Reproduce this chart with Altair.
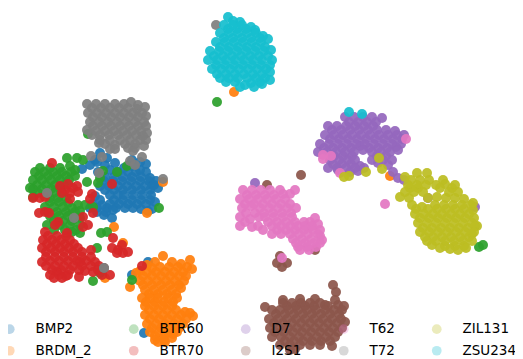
import altair as alt
import pandas as pd

CLASSES = ["BMP2", "BRDM_2", "BTR60", "BTR70", "D7", "I2S1", "T62", "T72", "ZIL131", "ZSU234"]
COLORS = ["#1f77b4", "#ff7f0e", "#2ca02c", "#d62728", "#9467bd", "#8c564b", "#e377c2", "#7f7f7f", "#bcbd22", "#17becf"]

BMP2 = [(110,170),(118,172),(128,172),(136,172),(146,172),(104,181),(113,181),(122,181),(131,181),(140,181),(149,181),
        (156,181),(105,190),(114,190),(123,190),(132,190),(141,190),(150,190),(158,188),(100,200),(114,200),(123,200),
        (132,200),(141,200),(150,200),(97,208),(107,208),(116,208),(133,208),(141,209),(104,215),(95,160),(105,165),
        (98,172),(132,160),(146,164),(152,185),
        (100,153),(97,162),(107,158),(115,163),(124,168),(132,166),(140,162),(90,165),(82,169),(140,170),
        (105,177),(114,177),(123,177),(132,177),(141,177),(150,178),(100,186),(109,186),(118,186),(127,186),
        (136,186),(145,186),(154,185),(95,196),(110,195),(118,195),(124,195),(133,195),(142,195),(151,195),
        (92,204),(102,205),(110,204),(119,204),(128,204),(137,204),(146,204),(155,202),(97,212),(106,212),
        (113,210),(125,208),(148,211),(152,209),(112,218),(90,208),(144,333),(132,275),(148,262)]
BRDM_2 = [(160,267),(169,267),(178,267),(187,267),(152,268),(143,276),(152,276),(161,276),(170,276),(179,276),(186,276),
          (143,285),(152,285),(161,285),(170,285),(179,285),(149,294),(158,294),(167,294),(176,294),(146,302),(155,302),
          (164,302),(173,302),(149,310),(158,310),(167,310),(176,310),(185,312),(150,319),(159,319),(168,319),(177,319),
          (186,319),(193,316),(152,328),(161,328),(170,328),(179,328),(155,336),(164,336),(173,334),(158,342),(165,342),
          (163,256),(155,262),(172,262),(181,264),(190,260),(192,269),(147,265),(140,271),(136,273),
          (147,272),(156,272),(165,272),(174,272),(183,272),(148,281),(157,281),(166,281),(175,281),(184,281),
          (140,281),(145,290),(154,290),(163,290),(172,290),(181,288),(142,298),(150,298),(158,298),(168,298),
          (177,298),(145,306),(154,306),(163,306),(172,306),(145,315),(154,315),(163,315),(172,315),(181,315),
          (190,313),(147,324),(156,324),(165,324),(174,324),(183,324),(150,332),(159,332),(168,332),(177,332),
          (155,340),(164,340),(172,338),(130,287),(114,227),(123,243),(163,182),(147,213),(105,278),(234,92),(390,176)]
BTR60 = [(39,176),(48,176),(57,176),(66,176),(37,185),(46,185),(55,185),(64,185),(75,176),(38,193),(47,193),(54,193),
         (62,193),(50,202),(59,202),(68,203),(48,212),(57,212),(66,212),(75,212),(54,221),(63,221),(72,221),(80,218),
         (54,230),(65,230),(76,230),(40,168),(50,168),(60,168),(70,166),(100,178),(85,205),(78,205),(72,208),
         (67,158),(77,158),(83,160),(75,170),(35,172),(44,172),(53,172),(62,172),(71,172),(33,180),(42,180),
         (51,180),(60,180),(69,180),(87,182),(33,189),(42,189),(51,189),(60,189),(30,188),(33,197),(50,198),
         (58,198),(66,198),(45,207),(54,207),(63,207),(50,216),(59,216),(68,216),(80,211),(47,225),(60,225),
         (70,225),(80,225),(80,233),(72,232),(93,207),(98,183),(117,172),(127,166),(103,171),(88,134),(101,233),
         (107,232),(97,248),(93,281),(100,273),(132,280),(159,208),(217,102),(479,247),(483,245)]
BTR70 = [(48,236),(57,236),(66,236),(47,244),(56,244),(65,244),(74,244),(46,252),(55,252),(64,252),(73,252),(82,252),
         (91,250),(50,261),(59,261),(68,261),(77,261),(86,261),(95,262),(42,262),(52,270),(61,270),(70,270),(85,271),
         (93,272),(57,272),(66,276),(65,190),(73,188),(118,250),(80,262),
         (60,186),(68,184),(77,186),(62,193),(70,193),(78,192),(70,199),(33,198),(40,198),(45,197),(39,213),
         (45,212),(49,213),(52,163),(112,184),(92,194),(90,199),(93,213),(83,217),(88,225),(83,227),(58,222),
         (55,225),(113,238),(122,245),(112,248),(117,253),(123,253),(128,252),(142,266),(45,232),(67,233),
         (43,240),(52,240),(61,240),(70,240),(42,248),(51,248),(60,248),(69,248),(78,248),(46,257),(55,257),
         (64,257),(73,257),(82,257),(91,257),(46,266),(55,266),(64,266),(73,266),(82,266),(91,266),(99,266),
         (50,275),(59,275),(68,275),(79,270),(54,278),(62,278),(79,277),(110,275),(102,275),(98,270)]
D7 = [(349,122),(358,122),(367,122),(376,122),(332,130),(341,130),(350,130),(359,130),(368,130),(377,130),(386,130),
      (395,131),(330,139),(339,139),(348,139),(357,139),(366,139),(375,139),(384,139),(393,139),(402,139),(324,148),
      (333,148),(342,148),(351,148),(360,146),(369,148),(378,148),(387,148),(396,147),(334,156),(343,156),(352,156),
      (377,156),(386,156),(333,164),(342,164),(351,164),(360,166),(378,163),(338,170),(350,172),(358,171),
      (345,117),(354,117),(363,117),(372,117),(382,118),(328,126),(337,126),(346,126),(355,126),(364,126),
      (373,126),(325,135),(334,135),(343,135),(352,135),(361,135),(370,135),(379,135),(388,135),(397,135),
      (404,135),(320,144),(329,144),(338,144),(347,144),(356,144),(365,144),(374,144),(383,144),(392,144),
      (401,144),(318,152),(327,152),(336,152),(345,152),(354,152),(363,150),(372,152),(381,152),(390,152),
      (398,150),(330,160),(339,160),(348,160),(355,160),(372,160),(383,160),(392,160),(328,168),(337,168),
      (346,168),(355,168),(364,168),(388,165),(393,172),(398,178),(404,180),(428,198),(475,207),(255,183)]
I2S1 = [(287,306),(296,306),(305,306),(314,306),(325,305),(276,314),(285,314),(294,314),(303,314),(312,314),(321,314),
        (330,314),(339,314),(274,323),(283,323),(292,323),(301,323),(310,323),(319,323),(328,323),(337,323),(345,322),
        (275,332),(284,332),(293,332),(302,332),(311,332),(320,332),(329,332),(338,332),(285,341),(294,341),(303,341),
        (312,341),(321,341),(330,341),(338,305),(295,349),(283,300),(300,299),(315,299),(328,306),
        (333,285),(336,292),(335,300),(344,306),(283,303),(292,303),(301,303),(310,303),(320,303),(265,307),
        (272,310),(280,310),(289,310),(298,310),(307,310),(316,310),(325,310),(334,310),(342,310),(269,319),
        (278,319),(287,319),(296,319),(305,319),(314,319),(323,319),(332,319),(341,319),(270,328),(279,328),
        (288,328),(297,328),(306,328),(315,328),(324,328),(333,328),(342,328),(272,337),(281,337),(290,337),
        (299,337),(308,337),(317,337),(326,337),(335,337),(280,345),(290,345),(300,345),(310,345),(320,345),
        (332,346),(290,350),(301,175),(267,185),(280,256),(277,263),(287,263),(282,267),(315,250),(104,268)]
T62 = [(247,195),(256,195),(265,195),(274,195),(283,194),(245,204),(254,204),(263,204),(272,204),(281,204),(290,204),
       (246,213),(255,213),(264,213),(273,213),(282,213),(291,213),(245,222),(268,222),(277,222),(286,222),(295,222),
       (277,230),(286,230),(295,230),(304,230),(313,230),(293,239),(302,239),(311,239),(320,236),(298,247),(307,247),
       (316,247),(310,222),(318,224),(290,194),(258,226),(304,222),
       (243,190),(252,190),(261,190),(270,190),(280,190),(295,190),(240,199),(249,199),(258,199),(267,199),
       (276,199),(285,199),(242,208),(251,206),(260,208),(269,208),(278,208),(287,208),(296,208),(240,217),
       (250,219),(259,217),(265,217),(274,217),(283,217),(292,217),(240,226),(252,227),(263,230),(272,226),
       (281,226),(290,226),(298,226),(315,218),(272,234),(281,234),(290,234),(299,234),(308,234),(318,234),
       (320,230),(322,240),(296,243),(305,243),(314,243),(320,243),(300,250),(309,250),(305,226),(312,226),
       (406,139),(323,155),(323,159),(331,156),(340,173),(385,204),(282,258)]
T72 = [(92,108),(101,108),(110,108),(119,108),(128,108),(137,109),(93,117),(102,117),(111,117),(120,117),(129,117),
       (138,117),(146,116),(93,126),(102,126),(111,126),(120,126),(129,126),(138,126),(146,126),(100,135),(109,135),
       (118,135),(127,135),(136,135),(143,136),(105,144),(115,145),(125,144),(135,144),(92,135),
       (87,104),(96,104),(105,104),(115,104),(124,104),(131,102),(138,105),(145,107),(88,113),(97,113),(106,113),
       (115,113),(124,113),(133,113),(142,113),(90,122),(99,122),(108,122),(117,122),(126,122),(135,122),(144,122),
       (87,130),(96,131),(105,131),(114,131),(123,131),(132,131),(141,131),(147,133),(100,140),(110,140),(120,140),
       (130,140),(140,140),(146,140),(99,143),(128,148),(135,148),(144,146),(133,151),(142,157),(91,156),(102,157),
       (110,149),(115,149),(130,161),(135,165),(99,173),(163,179),(47,193),(74,218),(104,268),(216,25)]
ZIL131 = [(411,180),(420,180),(429,180),(436,185),(445,184),(452,188),(410,188),(418,188),(409,198),(428,198),(437,197),
          (446,198),(455,198),(464,199),(416,209),(428,209),(437,209),(446,209),(455,209),(464,209),(473,210),(420,218),
          (429,218),(438,218),(447,218),(456,218),(465,218),(474,218),(423,228),(432,228),(441,228),(450,228),(459,228),
          (468,228),(477,226),(425,237),(433,237),(442,237),(451,237),(460,237),(469,237),(432,245),(445,246),(455,246),
          (464,246),(472,234),
          (417,173),(427,173),(405,177),(408,185),(417,185),(426,185),(443,180),(455,185),(400,197),(405,192),
          (414,192),(423,192),(440,188),(449,192),(458,192),(412,205),(422,207),(435,205),(444,205),(453,205),
          (462,205),(471,205),(473,203),(415,214),(424,214),(433,214),(442,214),(451,214),(460,214),(469,214),
          (418,223),(427,223),(436,223),(445,223),(454,223),(463,223),(472,223),(475,226),(420,232),(429,232),
          (438,232),(447,232),(456,232),(465,232),(474,232),(427,241),(436,241),(445,241),(454,241),(463,241),
          (472,241),(440,248),(450,249),(458,250),(466,248),(379,158),(382,169),(366,172),(349,176),(344,177)]
ZSU234 = [(228,29),(237,29),(246,29),(255,30),(224,38),(233,38),(242,38),(251,38),(260,38),(220,47),(229,47),(238,47),
          (247,47),(256,47),(265,47),(214,56),(223,56),(232,56),(241,56),(250,56),(259,56),(268,56),(216,65),(225,65),
          (234,65),(243,65),(252,65),(261,65),(270,65),(217,74),(226,74),(235,74),(244,74),(253,74),(262,74),(226,82),
          (235,82),(251,83),(260,82),(233,21),(240,22),
          (228,17),(224,25),(233,25),(242,25),(251,27),(220,33),(229,33),(238,33),(247,33),(256,33),(263,36),
          (216,42),(225,42),(234,42),(243,42),(252,42),(261,42),(268,39),(210,51),(219,51),(228,51),(237,51),
          (246,51),(255,51),(264,51),(271,50),(208,60),(217,60),(226,60),(235,60),(244,60),(253,60),(262,60),
          (272,60),(212,69),(221,69),(230,69),(239,69),(248,69),(257,69),(266,69),(270,72),(220,78),(229,78),
          (238,78),(247,78),(256,78),(265,78),(270,80),(245,85),(254,87),(262,84),(240,87),(349,112),(362,114)]

SERIES = [BMP2, BRDM_2, BTR60, BTR70, D7, I2S1, T62, T72, ZIL131, ZSU234]
rows = []
for name, pts in zip(CLASSES, SERIES):
    for a, b in pts:
        rows.append({"a": a, "b": b, "cls": name})
df = pd.DataFrame(rows)

legend = alt.Legend(
    title=None, orient="none", legendX=-5, legendY=314, columns=5, direction="vertical",
    gridAlign="each", columnPadding=35, rowPadding=7, padding=0,
    labelFont="DejaVu Sans", labelFontSize=13.5, labelColor="black", labelOffset=19,
    symbolType="circle", symbolSize=95, symbolOpacity=0.3, symbolStrokeWidth=0,
)
chart = (
    alt.Chart(df)
    .mark_circle(size=100, opacity=0.93)
    .encode(
        x=alt.X("a:Q", axis=None, scale=alt.Scale(domain=[8, 515], nice=False, zero=False)),
        y=alt.Y("b:Q", axis=None, scale=alt.Scale(domain=[359, 8], nice=False, zero=False)),
        color=alt.Color("cls:N", sort=CLASSES, scale=alt.Scale(domain=CLASSES, range=COLORS), legend=legend),
    )
    .properties(width=507, height=351, padding=0, autosize=alt.AutoSizeParams(type="none"))
    .configure_view(stroke=None)
)
chart.save("out.html", embed_options={"renderer": "svg", "actions": False})
